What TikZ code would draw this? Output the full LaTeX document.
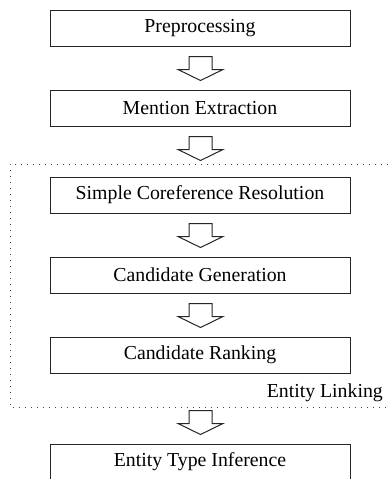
\documentclass[tikz,border=0pt]{standalone}
\usepackage{fontspec}
\setmainfont{Liberation Serif}
\usetikzlibrary{calc}
\tikzset{
  stagefont/.style={font=\fontsize{19.8pt}{23pt}\selectfont},
  stage/.style={draw=black!85, line width=1pt, minimum width=300pt, minimum height=36pt, inner sep=0pt, stagefont},
  blockarrow/.style={draw=black!85, line width=1pt, fill=white},
  groupbox/.style={draw=black!75, line width=1pt, dash pattern=on 1pt off 5pt},
}
\newcommand{\downblock}[1]{%
  \draw[blockarrow] ($(#1)+(-11.5,0)$) -- ++(23,0) -- ++(0,13) -- ++(11,0) -- ++(-22.5,11) -- ++(-22.5,-11) -- ++(11,0) -- cycle;}
\begin{document}
\begin{tikzpicture}[x=1pt,y=-1pt]
\useasboundingbox (0,0) rectangle (390,479);
\clip (0,0) rectangle (390,479);
\node[stage] (pre) at (200,28) {Preprocessing};
\node[stage] (men) at (200,108) {Mention Extraction};
\node[stage] (cor) at (200,195) {Simple Coreference Resolution};
\node[stage] (gen) at (200,275) {Candidate Generation};
\node[stage] (rank) at (200,355) {Candidate Ranking};
\node[stage] (type) at (200,462) {Entity Type Inference};
\draw[groupbox] (400,164) -- (10,164) -- (10,407) -- (400,407);
\node[anchor=base east, inner sep=0pt, stagefont] (el) at (383,397) {Entity Linking};
\coordinate (a1) at ($(pre.south)+(0.5,10)$);
\coordinate (a2) at ($(men.south)+(0.5,10)$);
\coordinate (a3) at ($(cor.south)+(0.5,10)$);
\coordinate (a4) at ($(gen.south)+(0.5,10)$);
\coordinate (a5) at ($(rank.south)+(0.5,37)$);
\downblock{a1}
\downblock{a2}
\downblock{a3}
\downblock{a4}
\downblock{a5}
\end{tikzpicture}
\end{document}
